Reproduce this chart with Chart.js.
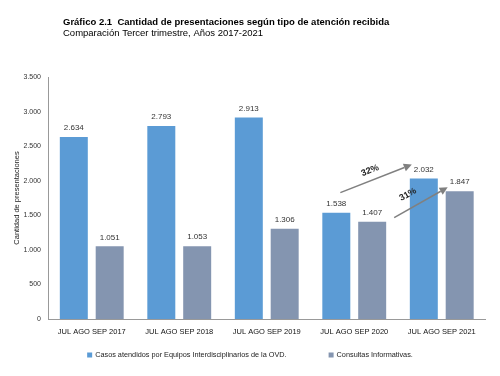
<!DOCTYPE html>
<html><head><meta charset="utf-8">
<script src="https://cdn.jsdelivr.net/npm/chart.js@4/dist/chart.umd.min.js"></script>
<style>html,body{margin:0;padding:0;background:#fff;}#wrap{width:500px;height:376px;position:relative;}</style>
</head><body><div id="wrap"><canvas id="c" width="500" height="376"></canvas></div>
<script>
const categories = ["JUL AGO SEP 2017","JUL AGO SEP 2018","JUL AGO SEP 2019","JUL AGO SEP 2020","JUL AGO SEP 2021"];
const casosAtendidos = [2634, 2793, 2913, 1538, 2032];
const consultasInformativas = [1051, 1053, 1306, 1407, 1847];
const seriesNames = ["Casos atendidos por Equipos Interdisciplinarios de la OVD.", "Consultas Informativas."];
const seriesColors = ['#5b9bd5', '#8495b0'];
const yTicks = [0, 500, 1000, 1500, 2000, 2500, 3000, 3500];
const titleText = "Gráfico 2.1  Cantidad de presentaciones según tipo de atención recibida";
const subtitleText = "Comparación Tercer trimestre, Años 2017-2021";
const yAxisTitle = "Cantidad de presentaciones";
const growthLabels = ["32%", "31%"];

const fmt = v => v.toLocaleString('de-DE');
const FONT = "'Liberation Sans', Arial, sans-serif";

const titlePlugin = {
  id: 'titleText',
  afterDraw(chart) {
    const ctx = chart.ctx;
    ctx.save();
    ctx.fillStyle = '#000';
    ctx.textBaseline = 'alphabetic';
    ctx.textAlign = 'left';
    ctx.font = "bold 9.5px " + FONT;
    ctx.fillText(titleText, 63, 25);
    ctx.font = "9.5px " + FONT;
    ctx.fillText(subtitleText, 63, 36);
    ctx.restore();
  }
};

const legendPlugin = {
  id: 'customLegend',
  afterDraw(chart) {
    const ctx = chart.ctx;
    ctx.save();
    ctx.font = "7.3px " + FONT;
    ctx.textBaseline = 'middle';
    ctx.textAlign = 'left';
    const gap = 42, box = 5, tgap = 3;
    const widths = seriesNames.map(n => box + tgap + ctx.measureText(n).width);
    const total = widths.reduce((a, b) => a + b, 0) + gap * (widths.length - 1);
    let x = 250 - total / 2;
    const y = 355;
    seriesNames.forEach((n, i) => {
      ctx.fillStyle = seriesColors[i];
      ctx.fillRect(x, y - box / 2, box, box);
      ctx.fillStyle = '#222';
      ctx.fillText(n, x + box + tgap, y);
      x += widths[i] + gap;
    });
    ctx.restore();
  }
};

const labelPlugin = {
  id: 'valueLabels',
  afterDatasetsDraw(chart) {
    const ctx = chart.ctx;
    ctx.save();
    ctx.font = "8px " + FONT;
    ctx.fillStyle = '#333';
    ctx.textAlign = 'center';
    ctx.textBaseline = 'bottom';
    chart.data.datasets.forEach((ds, i) => {
      chart.getDatasetMeta(i).data.forEach((bar, j) => {
        ctx.fillText(fmt(ds.data[j]), bar.x, bar.y - 5);
      });
    });
    ctx.restore();
  }
};

function arrow(ctx, x1, y1, x2, y2) {
  ctx.beginPath();
  ctx.moveTo(x1, y1);
  const ang = Math.atan2(y2 - y1, x2 - x1);
  const hl = 8;
  const ex = x2 - hl * Math.cos(ang), ey = y2 - hl * Math.sin(ang);
  ctx.lineTo(ex, ey);
  ctx.stroke();
  ctx.beginPath();
  ctx.moveTo(x2, y2);
  ctx.lineTo(ex + 4 * Math.sin(ang), ey - 4 * Math.cos(ang));
  ctx.lineTo(ex - 4 * Math.sin(ang), ey + 4 * Math.cos(ang));
  ctx.closePath();
  ctx.fill();
}

const arrowPlugin = {
  id: 'growthArrows',
  afterDatasetsDraw(chart) {
    const ctx = chart.ctx;
    const y = chart.scales.y;
    const m0 = chart.getDatasetMeta(0).data, m1 = chart.getDatasetMeta(1).data;
    ctx.save();
    ctx.strokeStyle = '#808080';
    ctx.fillStyle = '#808080';
    ctx.lineWidth = 1.5;
    const a1 = [m0[3].x + 4, y.getPixelForValue(casosAtendidos[3]) - 20, m0[4].x - 12, y.getPixelForValue(casosAtendidos[4]) - 14];
    arrow(ctx, ...a1);
    const a2 = [m1[3].x + 22, y.getPixelForValue(consultasInformativas[3]) - 4, m1[4].x - 12, y.getPixelForValue(consultasInformativas[4]) - 4];
    arrow(ctx, ...a2);
    ctx.fillStyle = '#222';
    ctx.font = "bold 9px " + FONT;
    ctx.textAlign = 'center';
    ctx.textBaseline = 'middle';
    [[a1, growthLabels[0], -6, -8], [a2, growthLabels[1], -13, -8]].forEach(([a, t, dx, dy]) => {
      const mx = (a[0] + a[2]) / 2, my = (a[1] + a[3]) / 2;
      const ang = Math.atan2(a[3] - a[1], a[2] - a[0]);
      ctx.save();
      ctx.translate(mx + dx, my + dy);
      ctx.rotate(ang);
      ctx.fillText(t, 0, 0);
      ctx.restore();
    });
    ctx.restore();
  }
};

new Chart(document.getElementById('c'), {
  type: 'bar',
  data: {
    labels: categories,
    datasets: [
      { label: seriesNames[0], data: casosAtendidos, backgroundColor: seriesColors[0], categoryPercentage: 0.82, barPercentage: 0.78 },
      { label: seriesNames[1], data: consultasInformativas, backgroundColor: seriesColors[1], categoryPercentage: 0.82, barPercentage: 0.78 }
    ]
  },
  options: {
    responsive: false,
    animation: false,
    layout: { padding: { top: 77, right: 14.5, left: 0, bottom: 0 } },
    plugins: {
      legend: { display: false },
      tooltip: { enabled: false }
    },
    scales: {
      x: {
        afterFit(s) { s.height = 57; },
        grid: { display: false, drawTicks: false },
        border: { color: '#999' },
        ticks: { color: '#111', font: { family: FONT, size: 7.5 }, padding: 8, maxRotation: 0 }
      },
      y: {
        min: 0, max: 3500,
        afterFit(s) { s.width = 48; },
        afterBuildTicks(s) { s.ticks = yTicks.map(v => ({ value: v })); },
        grid: { display: false, drawTicks: true, tickLength: 3 },
        border: { color: '#999' },
        ticks: { color: '#333', font: { family: FONT, size: 7 }, padding: 4, callback: v => fmt(v) },
        title: { display: true, text: yAxisTitle, color: '#222', font: { family: FONT, size: 7.5 }, padding: { top: 12, bottom: 0 } }
      }
    }
  },
  plugins: [titlePlugin, labelPlugin, arrowPlugin, legendPlugin]
});
</script></body></html>
